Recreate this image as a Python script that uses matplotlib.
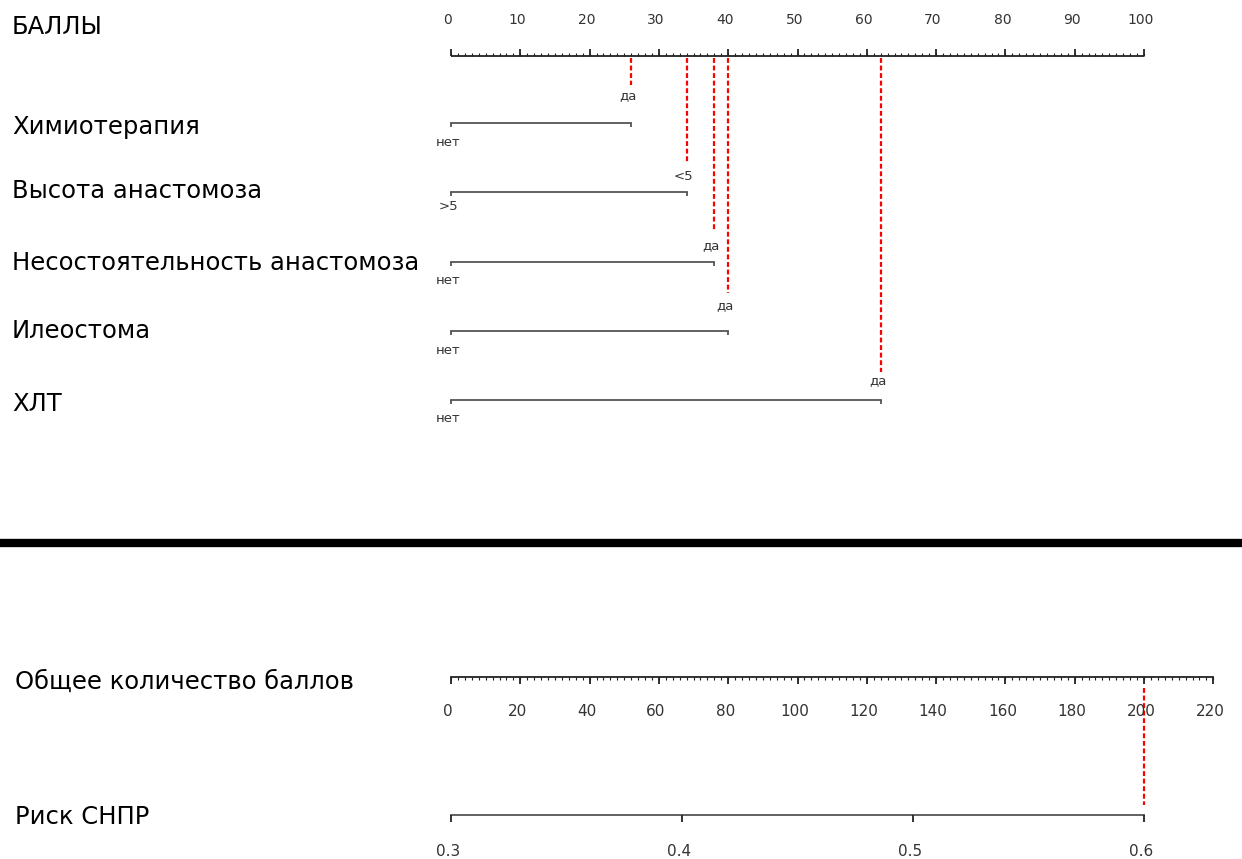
import matplotlib

matplotlib.use("Agg")
import matplotlib.pyplot as plt
import matplotlib.transforms as mtransforms
import numpy as np

plt.rcParams["font.family"] = ["DejaVu Sans"]

# --- data -------------------------------------------------------------
points_ticks = list(range(0, 101, 10))
variables = [
    "Химиотерапия",
    "Высота анастомоза",
    "Несостоятельность анастомоза",
    "Илеостома",
    "ХЛТ",
]
low_labels = ["нет", ">5", "нет", "нет", "нет"]
high_labels = ["да", "<5", "да", "да", "да"]
low_points = [0, 0, 0, 0, 0]
high_points = [26, 34, 38, 40, 62]

total_ticks = list(range(0, 221, 20))
total_score = sum(high_points)  # 200
risk_ticks = [0.3, 0.4, 0.5, 0.6]
risk_value = 0.6

# --- layout (pixel rows, figure 1242x859) -----------------------------
W, H = 1242, 859
PX_PER_POINT = 6.93
X0 = 451  # pixel of 0 points
row_y = [123, 192, 262, 331, 400]
name_y = [127, 191, 263, 331, 404]
hi_lab_y = [96, 176, 246, 306, 381]
lo_lab_y = [143, 207, 280, 350, 419]
red_end_y = [85, 163, 230, 293, 372]
points_y = 56
total_y = 677
risk_y = 815
sep_y = 543


def total_to_points(t):
    # total points axis: 220 total-points span the same as 110 points
    return np.asarray(t, dtype=float) / 2.0


def risk_to_points(r):
    r = np.asarray(r, dtype=float)
    t = (r - risk_ticks[0]) / (risk_value - risk_ticks[0]) * total_score
    return total_to_points(t)


fig = plt.figure(figsize=(W / 100, H / 100), dpi=100)
ax = fig.add_axes([0, 0, 1, 1])
ax.set_xlim(-X0 / PX_PER_POINT, (W - X0) / PX_PER_POINT)
ax.set_ylim(H, 0)
ax.axis("off")

axis_col = "#222222"
bar_col = "#555555"
tick_col = "#333333"
red_ls = (0, (2.2, 1.2))
shift_left = mtransforms.offset_copy(ax.transData, fig=fig, x=-3, y=0, units="dots")


def label(x, y, text):
    ax.text(x / W, 1 - y / H, text, transform=ax.transAxes,
            fontsize=17.5, color="black", va="center", ha="left")


# points axis (top)
label(12, 27, "БАЛЛЫ")
ax.plot([0, 100], [points_y, points_y], color=axis_col, lw=1.3, solid_capstyle="butt")
ax.vlines(np.arange(0, 101, 1), points_y - 3, points_y, color=axis_col, lw=0.8)
ax.vlines(points_ticks, points_y - 7, points_y, color=axis_col, lw=1.3)
for p in points_ticks:
    ax.text(p, 20, str(p), ha="center", va="center", fontsize=10, color=tick_col,
            transform=shift_left)

# predictor rows
for i, name in enumerate(variables):
    y = row_y[i]
    label(12, name_y[i], name)
    lo, hi = low_points[i], high_points[i]
    ax.plot([lo, hi], [y, y], color=bar_col, lw=1.3)
    ax.vlines([lo, hi], y, y + 4, color=bar_col, lw=1.3)
    ax.text(lo, lo_lab_y[i], low_labels[i], ha="center", va="center",
            fontsize=9.5, color=tick_col, transform=shift_left)
    ax.text(hi, hi_lab_y[i], high_labels[i], ha="center", va="center",
            fontsize=9.5, color=tick_col, transform=shift_left)
    ax.plot([hi, hi], [points_y + 2, red_end_y[i]], color="red", lw=1.6, ls=red_ls)

# separator
ax.axhline(sep_y, color="black", lw=6)

# total points axis
label(15, 682, "Общее количество баллов")
tx = total_to_points(total_ticks)
ax.plot([tx[0], tx[-1]], [total_y, total_y], color=axis_col, lw=1.3)
ax.vlines(total_to_points(np.arange(0, 221, 2)), total_y, total_y + 3,
          color=axis_col, lw=0.8)
ax.vlines(tx, total_y, total_y + 7, color=axis_col, lw=1.3)
for t, x in zip(total_ticks, tx):
    ax.text(x, 712, str(t), ha="center", va="center", fontsize=11, color=tick_col,
            transform=shift_left)

# risk axis
label(15, 817, "Риск СНПР")
rx = risk_to_points(risk_ticks)
ax.plot([rx[0], rx[-1]], [risk_y, risk_y], color=bar_col, lw=1.3)
ax.vlines(rx, risk_y, risk_y + 7, color=axis_col, lw=1.3)
for r, x in zip(risk_ticks, rx):
    ax.text(x, 851, f"{r:.1f}", ha="center", va="center", fontsize=11,
            color=tick_col, transform=shift_left)

# red connector from total points to risk
xs = total_to_points(total_score)
ax.plot([xs, xs], [total_y + 11, risk_y - 10], color="red", lw=1.6, ls=red_ls)

fig.savefig("out.png", dpi=100)
plt.close(fig)
